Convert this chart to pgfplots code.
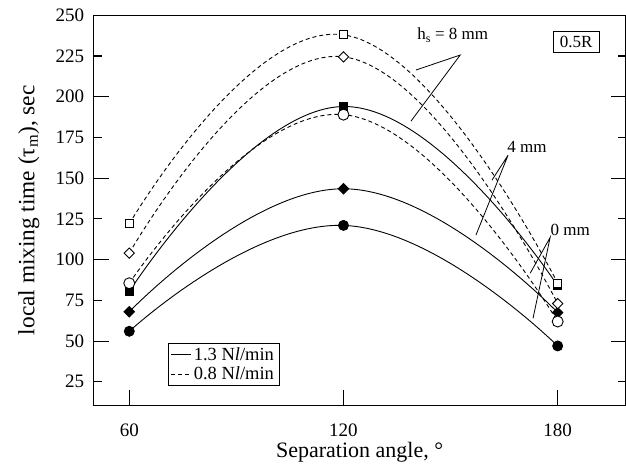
\documentclass[border=0pt]{standalone}
\usepackage{fontspec}
\setmainfont{Liberation Serif}
\usepackage{pgfplots}
\pgfplotsset{compat=1.18}
\begin{document}
\begin{tikzpicture}
\begin{axis}[
  at={(0,0)}, anchor=south west,
  width=532pt, height=390pt, scale only axis,
  xmin=50, xmax=199, ymin=10.6, ymax=250,
  axis line style={line width=1.2pt},
  tick style={line width=1.1pt, black},
  tick align=inside,
  xtick={60,120,180}, xtick pos=bottom, major tick length=15pt,
  ytick={50,100,...,250}, ytick pos=both,
  extra y ticks={25,75,...,225},
  extra y tick style={major tick length=8pt, ytick pos=both},
  /pgf/number format/assume math mode=true,
  tick label style={font=\fontsize{19}{20}\selectfont},
  xticklabel style={yshift=-15pt},
  yticklabel style={xshift=-6pt},
  xlabel={Separation angle, °},
  ylabel={local mixing time (τ\textsubscript{m}), sec},
  xlabel style={font=\fontsize{22}{24}\selectfont, at={(axis description cs:0.5,-0.1205)}, anchor=center},
  ylabel style={font=\fontsize{23.3}{24}\selectfont, at={(axis description cs:-0.122,0.5)}, anchor=center},
  every axis plot/.append style={line width=0.9pt},
  legend style={at={(axis description cs:0.139,0.159)}, anchor=north west,
    draw=black, line width=0.8pt, font=\fontsize{18.5}{20}\selectfont,
    inner xsep=3pt, inner ysep=2pt, row sep=1pt, cells={anchor=west}},
  legend image code/.code={\draw[#1] (0pt,0pt) -- (20pt,0pt);},
  clip=false,
]
\addlegendimage{solid, line width=0.9pt}
\addlegendentry{1.3 N\textit{l}/min}
\addlegendimage{dash pattern=on 4pt off 3pt, line width=0.9pt}
\addlegendentry{0.8 N\textit{l}/min}

% 1.3 Nl/min (solid, filled marks)
\addplot[smooth, tension=0.8, mark=*, mark size=5pt, mark options={fill=black}]
  coordinates {(60,56) (120,121) (180,47)};
\addplot[smooth, tension=0.8, mark=square*, mark size=3.65pt, mark options={fill=black, rotate=45}]
  coordinates {(60,68) (120,143.5) (180,67.5)};
\addplot[smooth, tension=0.8, mark=square*, mark size=4pt, mark options={fill=black}]
  coordinates {(60,80.5) (120,194) (180,84)};

% 0.8 Nl/min (dashed, open marks)
\addplot[smooth, tension=0.8, dash pattern=on 4pt off 3pt, mark=*, mark size=5.5pt, mark options={fill=white, solid}]
  coordinates {(60,85.5) (120,189) (180,62)};
\addplot[smooth, tension=0.8, dash pattern=on 4pt off 3pt, mark=square*, mark size=3.65pt, mark options={fill=white, solid, rotate=45}]
  coordinates {(60,104) (120,224.5) (180,73)};
\addplot[smooth, tension=0.8, dash pattern=on 4pt off 3pt, mark=square*, mark size=4pt, mark options={fill=white, solid}]
  coordinates {(60,122) (120,238) (180,85.5)};

% labels with leader lines
\begin{scope}[line width=0.8pt, font=\fontsize{17}{19}\selectfont]
\node at (axis cs:150.6,237.9) {h\textsubscript{s} = 8 mm};
\draw (axis cs:140.3,216.4) -- (axis cs:152.7,225.6) -- (axis cs:138.9,185);
\node at (axis cs:171.4,169) {4 mm};
\draw (axis cs:161.6,148.8) -- (axis cs:166.1,164.1) -- (axis cs:157.1,115);
\node at (axis cs:183.5,118) {0 mm};
\draw (axis cs:172.3,91.6) -- (axis cs:177.9,113.7) -- (axis cs:173.1,64);
\node[draw, inner xsep=7pt, inner ysep=5pt] at (axis cs:185.2,233.6) {0.5R};
\end{scope}
\end{axis}
\pgfresetboundingbox
\path[use as bounding box] (-93.6pt,-69pt) rectangle (532.5pt,405.3pt);
\end{tikzpicture}
\end{document}
